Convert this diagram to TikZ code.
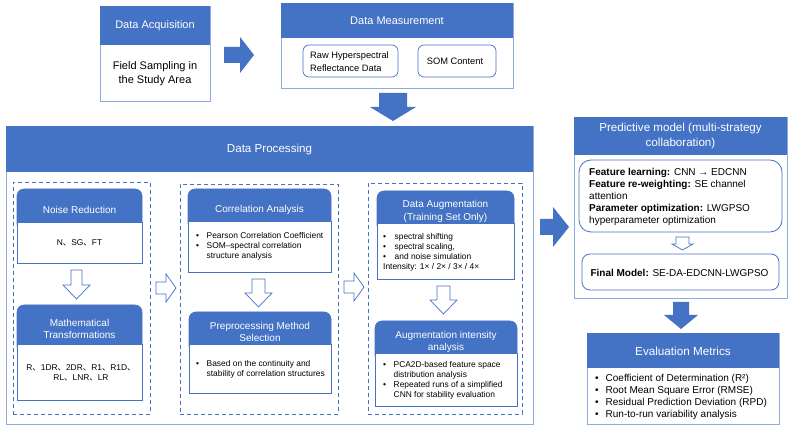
\documentclass[tikz,border=0pt]{standalone}
\usepackage{fontspec}
\setmainfont{Liberation Sans}
\newfontfamily\cjk{Noto Sans CJK SC}
\usetikzlibrary{fit}
\definecolor{mblue}{HTML}{4472C4}
\definecolor{lblue}{HTML}{8FAADC}
\newcommand\dun{{\cjk 、}}
\newcommand\fs[2]{\fontsize{#1}{#2}\selectfont}
\newcommand\bl{\makebox[10.5pt][l]{•}}
\newcommand\ind{\hspace*{10.5pt}}
% capbox: x1, ytop, x2, yheader, ybottom, name
\newcommand\capbox[6]{%
  \filldraw[fill=mblue,draw=mblue,line width=0.6pt,rounded corners=7pt] (#1,#2) rectangle (#3,#4+9);
  \filldraw[fill=white,draw=mblue,line width=0.6pt] (#1,#4) rectangle (#3,#5);
  \node[fit={(#1,#2)(#3,#5)},inner sep=0pt] (#6) {};
}
% frame with header: x1, ytop, x2, yheader, ybottom, name
\newcommand\frbox[6]{%
  \node[frame,fit={(#1,#2)(#3,#5)}] (#6) {};
  \fill[mblue] (#1,#2) rectangle (#3,#4);
}
\begin{document}
\begin{tikzpicture}[x=1pt,y=-1pt,
  frame/.style={draw=lblue,line width=0.9pt,fill=white,inner sep=0pt},
  ibox/.style={draw=mblue,line width=0.7pt,inner sep=0pt},
  dgroup/.style={draw=mblue,line width=0.9pt,dash pattern=on 4pt off 3pt,inner sep=0pt},
  ttl/.style={text=white,inner sep=0pt,align=center},
  txt/.style={inner sep=0pt,align=left,anchor=west},
  solidarrow/.style={fill=mblue},
  hollowarrow/.style={draw=mblue,fill=white,line width=0.7pt,line join=miter}]
\fill[white] (0,0) rectangle (790,430);
\useasboundingbox (0,0) rectangle (790,430);

% ---------- Data Acquisition ----------
\frbox{100}{6}{210}{45}{101}{acq}
\node[ttl,font=\fs{11}{13}] (acqT) at (155,26) {Data Acquisition};
\node[inner sep=0pt,align=center,font=\fs{11}{14}] (acqB) at (155,73.5) {Field Sampling in\\the Study Area};

% arrow acq -> meas
\fill[solidarrow] (224,47) -- (240,47) -- (240,37) -- (254,55) -- (240,73) -- (240,63) -- (224,63) -- cycle;

% ---------- Data Measurement ----------
\frbox{281}{3}{513}{38}{88}{meas}
\node[ttl,font=\fs{11}{13}] (measT) at (397,20.5) {Data Measurement};
\node[ibox,rounded corners=6pt,fit={(303,45)(398,77)}] (raw) {};
\node[txt,font=\fs{9.3}{12.5}] (rawT) at (310,61.5) {Raw Hyperspectral\\Reflectance Data};
\node[ibox,rounded corners=6pt,fit={(418,45)(496,77)}] (som) {};
\node[inner sep=0pt,font=\fs{9.3}{12}] (somT) at (455,61.5) {SOM Content};

% arrow meas -> processing
\fill[solidarrow] (379,93) -- (407,93) -- (407,107) -- (416,107) -- (393,121) -- (370,107) -- (379,107) -- cycle;

% ---------- Data Processing ----------
\frbox{6}{126}{533}{172}{424}{proc}
\node[ttl,font=\fs{11.6}{14}] (procT) at (269.5,149.5) {Data Processing};

\node[dgroup,fit={(13,182)(150,414)}] (g1) {};
\node[dgroup,fit={(180,184)(338,414)}] (g2) {};
\node[dgroup,fit={(368,183)(522,414)}] (g3) {};

% group 1
\capbox{17}{189}{142}{222}{263}{noise}
\node[ttl,font=\fs{10}{12}] (noiseT) at (79.5,209.5) {Noise Reduction};
\node[inner sep=0pt,font=\fs{8.4}{10}] (noiseB) at (79.5,242.5) {N\dun SG\dun FT};
\fill[hollowarrow] (71,270) -- (82,270) -- (82,285) -- (90,285) -- (76.5,299) -- (63,285) -- (71,285) -- cycle;
\capbox{17}{305}{142}{344}{400}{math}
\node[ttl,font=\fs{10}{11.7}] (mathT) at (79.5,329) {Mathematical\\Transformations};
\node[inner sep=0pt,align=center,font=\fs{8.4}{10}] (mathB) at (81,372.5) {R\dun 1DR\dun 2DR\dun R1\dun R1D\dun\\RL\dun LNR\dun LR};

% g1 -> g2
\filldraw[hollowarrow] (156,282) -- (166,282) -- (166,274) -- (176,288) -- (166,302) -- (166,294) -- (156,294) -- cycle;

% group 2
\capbox{188}{189}{331}{221}{272}{corr}
\node[ttl,font=\fs{10}{12}] (corrT) at (259.5,209.5) {Correlation Analysis};
\node[txt,font=\fs{8.4}{10}] (corrB) at (196,246.5) {\bl Pearson Correlation Coefficient\\\bl SOM–spectral correlation\\\ind structure analysis};
\filldraw[hollowarrow] (252,279) -- (265,279) -- (265,293) -- (272,293) -- (258.5,307) -- (245,293) -- (252,293) -- cycle;
\capbox{189}{312}{331}{344}{393}{prep}
\node[ttl,font=\fs{10}{12}] (prepT) at (260,332) {Preprocessing Method\\Selection};
\node[txt,font=\fs{8.4}{10}] (prepB) at (196,369.5) {\bl Based on the continuity and\\\ind stability of correlation structures};

% g2 -> g3
\filldraw[hollowarrow] (344,281) -- (354,281) -- (354,273) -- (364,287) -- (354,301) -- (354,293) -- (344,293) -- cycle;

% group 3
\capbox{377}{191}{514}{223}{279}{aug}
\node[ttl,font=\fs{10}{12.3}] (augT) at (445.5,211.5) {Data Augmentation\\(Training Set Only)};
\node[txt,font=\fs{8.4}{10}] (augB) at (383,252.5) {\makebox[11.5pt][l]{•}spectral shifting\\\makebox[11.5pt][l]{•}spectral scaling,\\\makebox[11.5pt][l]{•}and noise simulation\\Intensity: 1× / 2× / 3× / 4×};
\filldraw[hollowarrow] (437,286) -- (450,286) -- (450,300) -- (457,300) -- (443.5,314) -- (430,300) -- (437,300) -- cycle;
\capbox{375}{321}{517}{353}{406}{aint}
\node[ttl,font=\fs{10}{12}] (aintT) at (446,341.5) {Augmentation intensity\\analysis};
\node[txt,font=\fs{8.4}{10}] (aintB) at (383,380.5) {\bl PCA2D-based feature space\\\ind distribution analysis\\\bl Repeated runs of a simplified\\\ind CNN for stability evaluation};

% processing -> predictive
\fill[solidarrow] (540,219) -- (553,219) -- (553,207) -- (569,227) -- (553,247) -- (553,235) -- (540,235) -- cycle;

% ---------- Predictive model ----------
\frbox{574}{117}{787}{155}{298}{pred}
\node[ttl,font=\fs{11.6}{14.3}] (predT) at (680.5,136) {Predictive model (multi-strategy\\collaboration)};
\node[ibox,line width=0.8pt,rounded corners=12pt,fit={(579,160)(782,232)}] (feat) {};
\node[txt,font=\fs{10}{12}] (featB) at (589,196.5) {\textbf{Feature learning:} CNN → EDCNN\\\textbf{Feature re-weighting:} SE channel\\attention\\\textbf{Parameter optimization:} LWGPSO\\hyperparameter optimization};
\filldraw[hollowarrow] (676,237) -- (689,237) -- (689,244) -- (693,244) -- (682.5,250) -- (672,244) -- (676,244) -- cycle;
\node[ibox,line width=0.8pt,rounded corners=8pt,fit={(582,254)(779,290)}] (final) {};
\node[inner sep=0pt,font=\fs{10}{12}] (finalT) at (679.5,272.5) {\textbf{Final Model:} SE-DA-EDCNN-LWGPSO};

% predictive -> evaluation
\fill[solidarrow] (673,302) -- (689,302) -- (689,315) -- (698,315) -- (681,329) -- (664,315) -- (673,315) -- cycle;

% ---------- Evaluation Metrics ----------
\frbox{587}{333}{779}{368}{424}{eval}
\node[ttl,font=\fs{11.7}{14}] (evalT) at (683,351) {Evaluation Metrics};
\node[txt,font=\fs{10}{12}] (evalB) at (595,396.5) {\bl Coefficient of Determination (R²)\\\bl Root Mean Square Error (RMSE)\\\bl Residual Prediction Deviation (RPD)\\\bl Run-to-run variability analysis};
\end{tikzpicture}
\end{document}
